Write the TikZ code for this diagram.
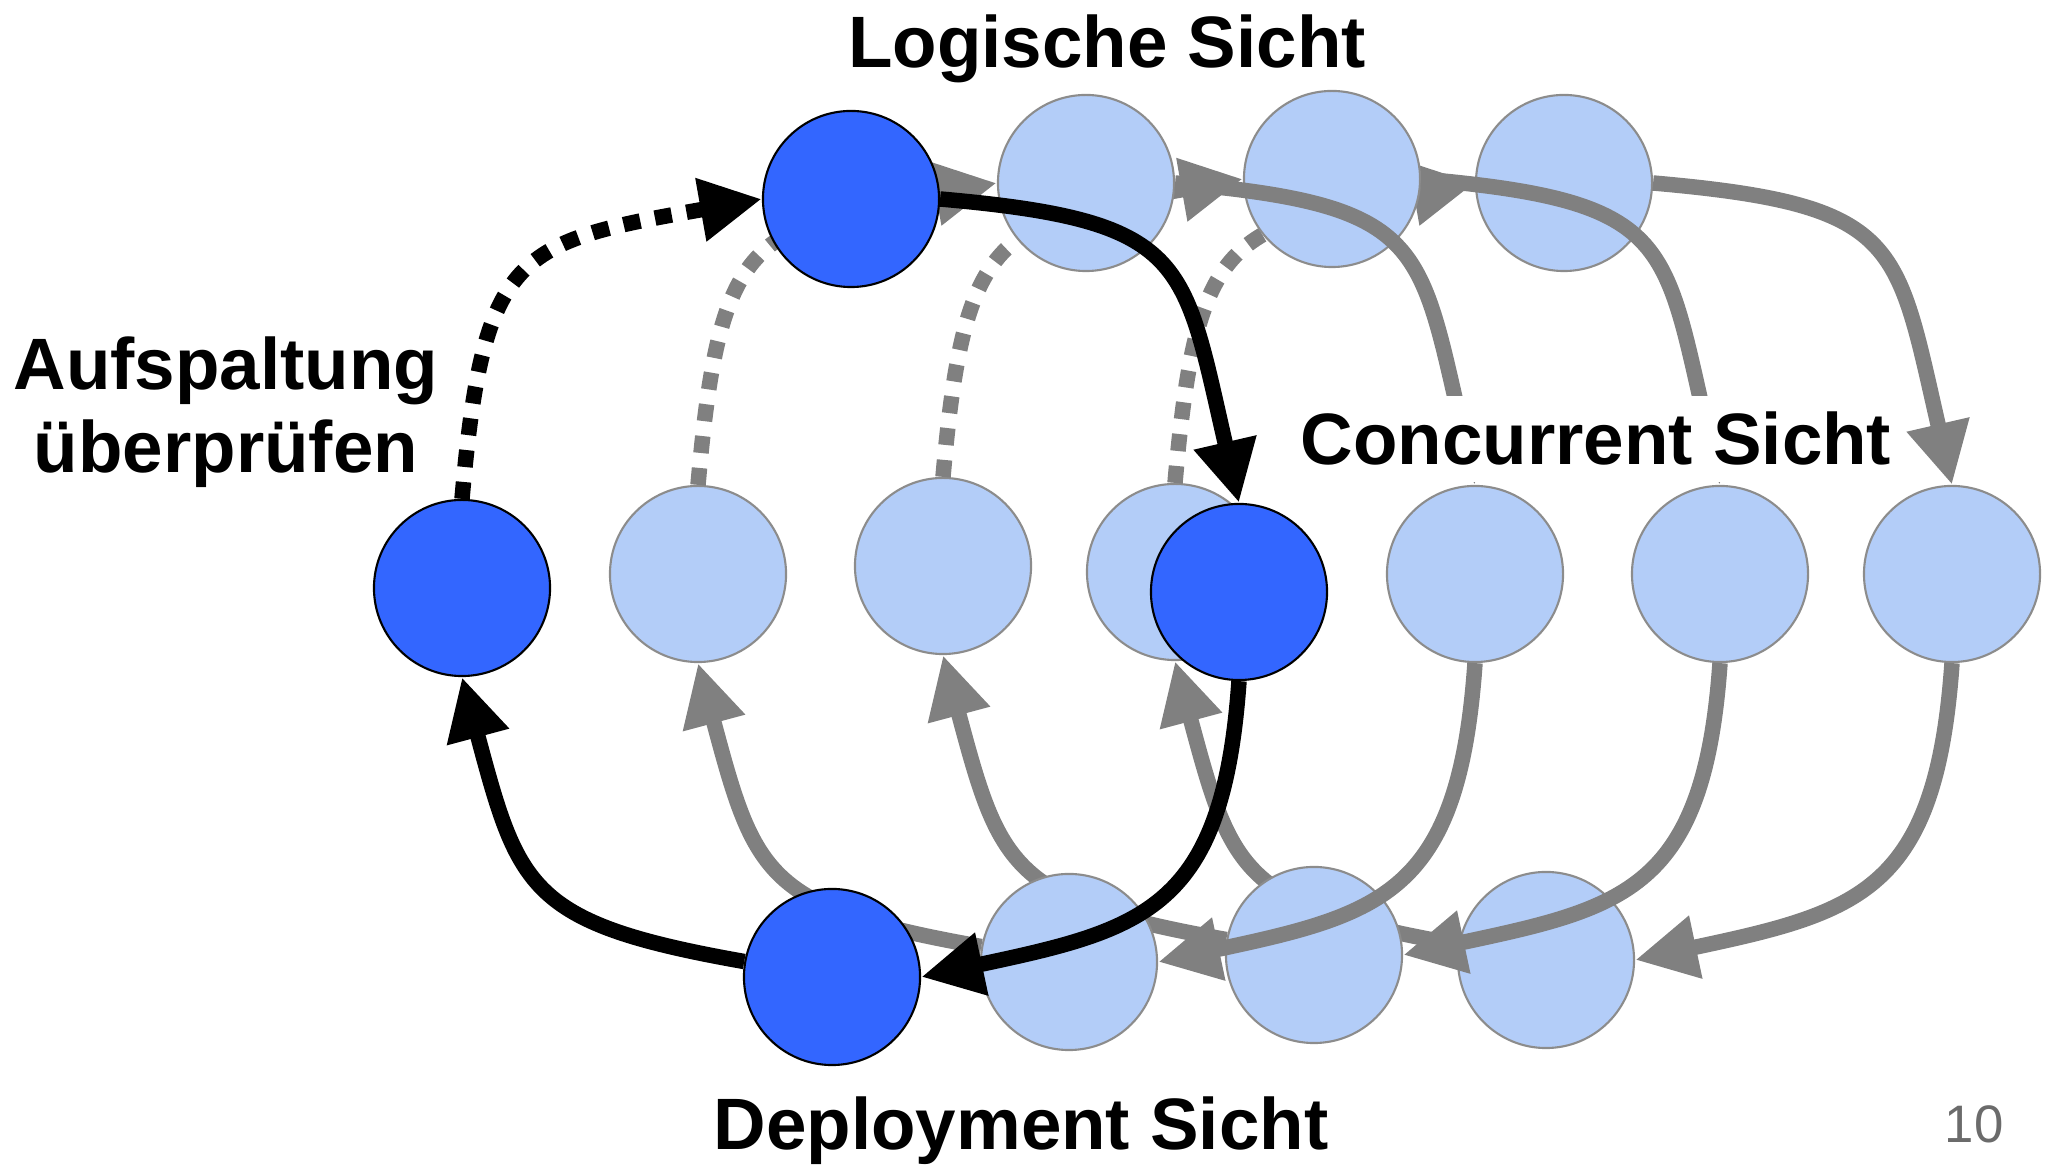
\documentclass[tikz,border=0pt]{standalone}
\usepackage{fontspec}
\setmainfont{Liberation Sans}
\usetikzlibrary{arrows.meta}

\definecolor{darkblue}{HTML}{3366FF}
\definecolor{paleblue}{HTML}{B3CDF8}
\definecolor{rimgray}{HTML}{8C8C8C}
\definecolor{linegray}{HTML}{808080}
\definecolor{pagegray}{HTML}{6B6B6B}

\tikzset{
  viewdot/.style={circle, minimum size=1.76cm, inner sep=0pt, line width=0.6pt},
  darkdot/.style={viewdot, draw=black, fill=darkblue},
  paledot/.style={viewdot, draw=rimgray, fill=paleblue},
  viewarrow/.style={line width=4.4pt, -{Triangle[length=0.62cm,width=0.6cm]}},
  checkarrow/.style={viewarrow, dash pattern=on 0.17cm off 0.15cm},
  viewname/.style={font=\bfseries\fontsize{20.7}{23.5}\selectfont, inner sep=0pt},
}

\begin{document}
\begin{tikzpicture}[x=0.01cm, y=-0.01cm]
  \useasboundingbox (0,0) rectangle (2054,1165);

  % grey rounds, back to front
  \foreach \i/\h/\lx/\ly/\nx/\ny/\dx/\dy/\cx/\cy in {
      4/3/1564/183/1952/574/1546/960/1175/572,
      3/2/1332/179/1720/574/1314/955/943/566,
      2/1/1086/183/1475/574/1069/962/698/574}{
    \node[paledot] (l\i) at (\lx,\ly) {};
    \node[paledot] (n\i) at (\nx,\ny) {};
    \node[paledot] (d\i) at (\dx,\dy) {};
    \node[paledot] (c\h) at (\cx,\cy) {};
    \draw[viewarrow, linegray] (l\i.east) to[out=-5, in=103, looseness=1.5] (n\i.north);
    \draw[viewarrow, linegray] (n\i.south) to[out=-94, in=12, looseness=1.35] (d\i.east);
    \draw[viewarrow, linegray] (d\i.170) to[out=170, in=-75, looseness=1.4] (c\h.south);
    \draw[checkarrow, linegray] (c\h.north) to[out=85, in=190, looseness=1.5] (l\i.west);
  }

  % front round
  \node[darkdot] (l1) at (851,199) {};
  \node[darkdot] (n1) at (1239,592) {};
  \node[darkdot] (d1) at (832,977) {};
  \node[darkdot] (c0) at (462,588) {};
  \draw[viewarrow] (l1.east) to[out=-5, in=103, looseness=1.5] (n1.north);
  \draw[viewarrow] (n1.south) to[out=-94, in=12, looseness=1.35] (d1.east);
  \draw[viewarrow] (d1.170) to[out=170, in=-75, looseness=1.4] (c0.south);
  \draw[checkarrow] (c0.north) to[out=85, in=190, looseness=1.5] (l1.west);

  % view names
  \node[viewname, anchor=base] (logtitle) at (1107,68) {Logische Sicht};
  \node[viewname, align=center] (splittitle) at (226,412) {Aufspaltung\\überprüfen};
  \node[viewname, anchor=base, fill=white, inner xsep=4pt, inner ysep=0.16cm] (conctitle) at (1596,465) {Concurrent Sicht};
  \node[viewname, anchor=base] (deptitle) at (1021,1150) {Deployment Sicht};
  \node[anchor=base, text=pagegray, font=\fontsize{15}{18}\selectfont] (pagenum) at (1974,1143) {10};
\end{tikzpicture}
\end{document}
